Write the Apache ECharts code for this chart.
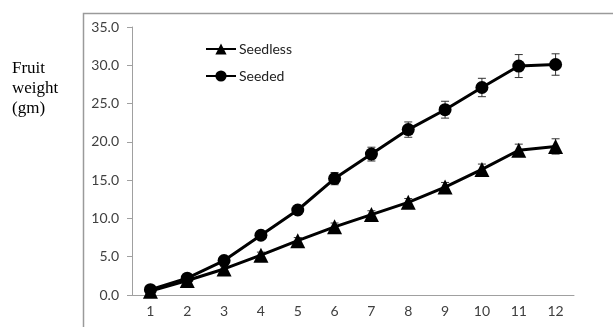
<!DOCTYPE html>
<html><head><meta charset="utf-8">
<script src="https://cdn.jsdelivr.net/npm/echarts@6/dist/echarts.min.js"></script>
<style>html,body{margin:0;padding:0;background:#fff}#c{width:613px;height:327px}</style>
</head><body><div id="c"></div>
<script>
const categories = ['1','2','3','4','5','6','7','8','9','10','11','12'];
const seedless = [0.5, 1.9, 3.4, 5.2, 7.1, 8.9, 10.5, 12.1, 14.1, 16.4, 18.9, 19.4];
const seedlessErr = [0.2, 0.3, 0.3, 0.4, 0.4, 0.5, 0.5, 0.5, 0.6, 0.7, 0.8, 1.0];
const seeded = [0.7, 2.2, 4.5, 7.8, 11.1, 15.2, 18.4, 21.6, 24.2, 27.1, 29.9, 30.1];
const seededErr = [0.2, 0.3, 0.4, 0.5, 0.5, 0.8, 0.9, 1.0, 1.1, 1.2, 1.5, 1.4];
const yTicks = [0, 5, 10, 15, 20, 25, 30, 35];

const chart = echarts.init(document.getElementById('c'));
function errSeries(vals, errs) {
  return {
    type: 'custom',
    silent: true,
    z: 1,
    data: vals.map((v, i) => [i, v - errs[i], v + errs[i]]),
    renderItem: function (params, api) {
      const lo = api.coord([api.value(0), api.value(1)]);
      const hi = api.coord([api.value(0), api.value(2)]);
      const w = 4;
      const st = { stroke: '#333', lineWidth: 1 };
      return { type: 'group', children: [
        { type: 'line', shape: { x1: lo[0], y1: lo[1], x2: hi[0], y2: hi[1] }, style: st },
        { type: 'line', shape: { x1: lo[0]-w, y1: lo[1], x2: lo[0]+w, y2: lo[1] }, style: st },
        { type: 'line', shape: { x1: hi[0]-w, y1: hi[1], x2: hi[0]+w, y2: hi[1] }, style: st }
      ]};
    }
  };
}
chart.setOption({
  animation: false,
  backgroundColor: '#fff',
  graphic: [
    { type: 'rect', left: 81, top: 11, shape: { width: 600, height: 400 }, style: { fill: 'none', stroke: '#9a9a9a', lineWidth: 1.5 }, z: -1 },
    { type: 'text', left: 12, top: 59, style: { text: 'Fruit\nweight\n(gm)', font: '17px "Liberation Serif"', fill: '#000', lineHeight: 20 } }
  ],
  legend: {
    orient: 'vertical', left: 200, top: 37, itemGap: 13, itemWidth: 30, itemHeight: 14,
    textStyle: { fontFamily: 'Lato', fontSize: 14, color: '#222', padding: [0, 0, 0, -2] },
    data: ['Seedless', 'Seeded']
  },
  grid: { left: 132, top: 27, right: 39, bottom: 32, containLabel: false },
  xAxis: {
    type: 'category', data: categories, boundaryGap: true,
    axisLine: { lineStyle: { color: '#a0a0a0', width: 1 } },
    axisTick: { alignWithLabel: true, length: 5, lineStyle: { color: '#a0a0a0' } },
    axisLabel: { color: '#404040', fontFamily: 'Lato', fontSize: 14, margin: 9 }
  },
  yAxis: {
    type: 'value', min: 0, max: 35, interval: 5,
    axisLine: { show: true, lineStyle: { color: '#a0a0a0', width: 1 } },
    axisTick: { show: true, length: 5, lineStyle: { color: '#a0a0a0' } },
    splitLine: { show: false },
    axisLabel: { color: '#404040', fontFamily: 'Lato', fontSize: 14, margin: 13,
      formatter: v => yTicks.includes(v) ? v.toFixed(1) : '' }
  },
  series: [
    errSeries(seedless, seedlessErr),
    errSeries(seeded, seededErr),
    { name: 'Seedless', type: 'line', data: seedless, symbol: 'triangle', symbolSize: 15,
      itemStyle: { color: '#000' }, lineStyle: { color: '#000', width: 3 }, z: 3 },
    { name: 'Seeded', type: 'line', data: seeded, symbol: 'circle', symbolSize: 13,
      itemStyle: { color: '#000' }, lineStyle: { color: '#000', width: 3 }, z: 3 }
  ]
});
</script></body></html>
